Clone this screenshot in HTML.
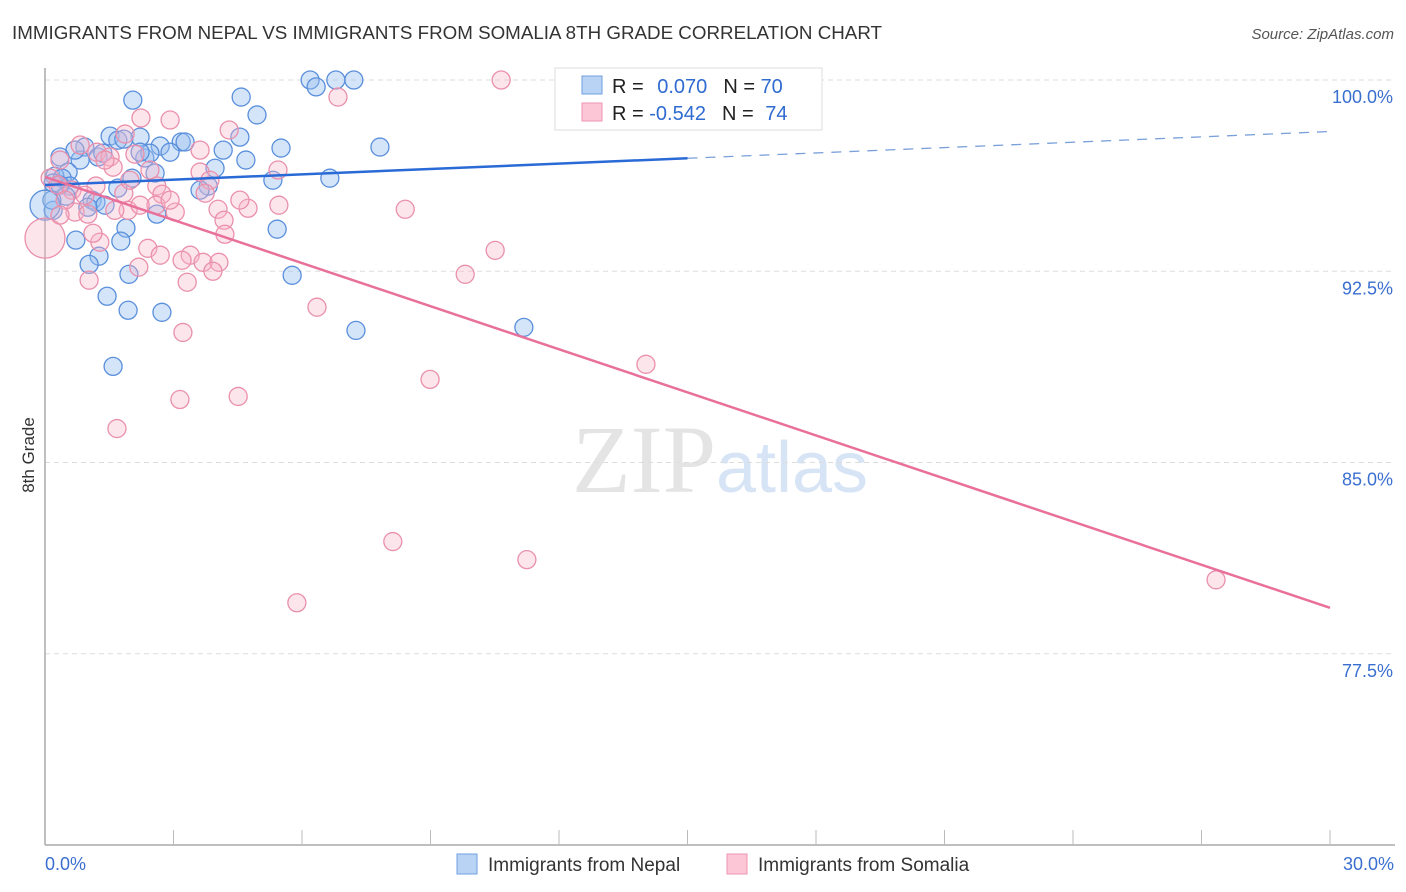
<!DOCTYPE html>
<html><head><meta charset="utf-8"><style>
body{margin:0;background:#fff;font-family:"Liberation Sans",sans-serif}
svg{display:block}
</style></head><body>
<svg id="chart" width="1406" height="892" xmlns="http://www.w3.org/2000/svg" font-family="Liberation Sans, sans-serif">
<text x="12" y="39" font-size="18" fill="#333" textLength="870" lengthAdjust="spacingAndGlyphs">IMMIGRANTS FROM NEPAL VS IMMIGRANTS FROM SOMALIA 8TH GRADE CORRELATION CHART</text>
<text x="1394" y="39" font-size="15" fill="#555" font-style="italic" text-anchor="end">Source: ZipAtlas.com</text>
<text x="720" y="492" font-size="96" text-anchor="middle" fill="#e4e4e4" font-family="Liberation Serif, serif">ZIP<tspan fill="#d6e4f5" font-family="Liberation Sans, sans-serif" font-size="72">atlas</tspan></text>
<text transform="translate(34,455) rotate(-90)" font-size="17" fill="#333" text-anchor="middle">8th Grade</text>
<g id="grid"></g><g id="axes"></g><g id="pts"></g><g id="lines"></g>
<g>
<rect x="555" y="68" width="267" height="62" fill="#fff" stroke="#ddd"/>
<rect x="582" y="76" width="20" height="18" fill="#b9d3f5" stroke="#6f9fe0"/>
<rect x="582" y="103" width="20" height="18" fill="#fcc6d6" stroke="#ec94b0"/>
<text x="612" y="93" font-size="20" fill="#222">R = <tspan fill="#2f6bd0" dx="8">0.070</tspan><tspan dx="16" fill="#222">N = </tspan><tspan fill="#2f6bd0">70</tspan></text>
<text x="612" y="120" font-size="20" fill="#222">R = <tspan fill="#2f6bd0">-0.542</tspan><tspan dx="16" fill="#222">N = </tspan><tspan fill="#2f6bd0" dx="6">74</tspan></text>
</g>
<g>
<rect x="457" y="854" width="20" height="20" fill="#b9d3f5" stroke="#6f9fe0"/>
<text x="488" y="871" font-size="19" fill="#333">Immigrants from Nepal</text>
<rect x="727" y="854" width="20" height="20" fill="#fcc6d6" stroke="#ec94b0"/>
<text x="758" y="871" font-size="19" fill="#333">Immigrants from Somalia</text>
</g>
</svg>
<script>
const yTicks=[100,92.5,85,77.5];
const yTickLabels=["100.0%","92.5%","85.0%","77.5%"];
const xTickLabels=["0.0%","30.0%"];
const nepalX=[6.19,6.33,6.79,7.21,2.05,4.58,4.95,1.52,2.22,1.70,1.84,0.93,2.69,3.18,3.27,7.82,5.51,4.16,0.35,1.24,0.82,1.35,2.33,2.45,2.92,4.69,3.97,2.57,0.54,0.23,0.40,0.19,0.58,2.03,5.32,6.65,3.81,1.70,1.10,1.19,0.49,1.40,1.00,0.19,2.61,1.89,5.42,1.77,0.72,1.26,1.03,1.96,5.77,1.45,1.94,2.73,7.26,11.18,1.59,0.35,0.70,2.22,4.55,0.16,3.62,0.0];
const nepalY=[100,99.73,100,100,99.21,99.33,98.63,97.80,97.76,97.64,97.68,97.37,97.41,97.57,97.57,97.37,97.33,97.25,96.98,96.98,96.86,97.13,96.94,97.13,97.17,96.86,96.54,96.35,96.39,96.23,96.15,95.96,95.84,96.15,96.07,96.15,95.84,95.76,95.29,95.21,95.44,95.09,95.01,94.89,94.74,94.19,94.15,93.68,93.72,93.09,92.77,92.38,92.34,91.52,90.97,90.89,90.18,90.30,88.77,95.88,97.25,97.17,97.76,95.29,95.68,95.09];
const somaliaX=[10.65,6.84,2.24,2.92,4.30,1.87,0.82,1.21,1.52,1.59,2.10,0.35,0.12,0.30,0.63,1.19,1.84,2.61,2.73,3.62,3.85,3.74,5.44,2.59,3.04,4.04,4.74,5.46,8.41,1.94,0.70,1.00,2.40,1.28,1.12,4.18,4.20,2.69,3.39,3.20,3.69,4.06,2.19,3.92,3.32,1.03,9.81,10.51,6.35,3.22,14.03,8.99,3.15,4.51,1.68,8.12,11.25,5.88,27.34,0.0,0.47,1.40,2.45,1.98,1.63,3.62,0.35,0.93,2.92,2.22,4.55];
const somaliaY=[100,99.33,98.51,98.43,98.04,97.88,97.45,97.17,96.98,96.58,97.09,96.86,96.15,95.88,95.68,95.84,95.56,95.84,95.52,96.39,96.07,95.56,96.47,95.09,94.82,94.93,94.97,95.09,94.93,94.89,94.82,94.74,93.40,93.64,93.99,94.50,93.95,93.13,93.13,92.93,92.85,92.85,92.66,92.50,92.07,92.15,92.38,93.32,91.09,90.10,88.85,88.26,87.47,87.59,86.33,81.90,81.19,79.50,80.40,93.80,95.29,96.86,96.47,96.07,94.89,97.25,94.70,95.48,95.29,95.09,95.29];
const nepalTrend=[95.88,97.98];
const somaliaTrend=[96.2,79.3];
const NS="http://www.w3.org/2000/svg";
const xs=v=>45+v/30*1285, ys=v=>80+(100-v)/30*765;
function mk(tag,parent,attrs){const e=document.createElementNS(NS,tag);for(const k in attrs)e.setAttribute(k,attrs[k]);document.getElementById(parent).appendChild(e);return e;}
yTicks.forEach((t,i)=>{
 const l=mk('line','grid',{x1:45,x2:1395,y1:ys(t),y2:ys(t),stroke:'#ddd','stroke-dasharray':'5,4'});
 
 
 const tx=mk('text','grid',{x:1393,y:ys(t)+23,'font-size':18,fill:'#3a6fd0','text-anchor':'end'});
 tx.textContent=yTickLabels[i];
 
 
});
mk('line','axes',{x1:45,x2:45,y1:68,y2:845,stroke:'#aaa','stroke-width':1.5});
mk('line','axes',{x1:45,x2:1395,y1:845,y2:845,stroke:'#aaa','stroke-width':1.5});
for(let i=1;i<=10;i++){const x=xs(i*3);mk('line','axes',{x1:x,x2:x,y1:830,y2:845,stroke:'#bbb'});}
let t1=mk('text','axes',{x:45,y:870,'font-size':18,fill:'#3a6fd0'});t1.textContent=xTickLabels[0];


let t2=mk('text','axes',{x:1394,y:870,'font-size':18,fill:'#3a6fd0','text-anchor':'end'});t2.textContent=xTickLabels[1];


nepalX.forEach((v,i)=>{
 const c=mk('circle','pts',{cx:xs(v),cy:ys(nepalY[i]),r:v===0?15:9,fill:'rgba(150,190,240,0.4)',stroke:'#5a8fdc','stroke-width':1.3});
 
 
});
somaliaX.forEach((v,i)=>{
 const c=mk('circle','pts',{cx:xs(v),cy:ys(somaliaY[i]),r:v===0?20:9,fill:'rgba(250,180,200,0.35)',stroke:'#ea90ac','stroke-width':1.3});
 
 
});
const nAt=x=>nepalTrend[0]+(nepalTrend[1]-nepalTrend[0])*x/30;
let a=mk('line','lines',{x1:xs(0),y1:ys(nAt(0)),x2:xs(15),y2:ys(nAt(15)),stroke:'#2a6ad6','stroke-width':2.5});


let b=mk('line','lines',{x1:xs(15),y1:ys(nAt(15)),x2:xs(30),y2:ys(nAt(30)),stroke:'#7aa0da','stroke-width':1.3,'stroke-dasharray':'10,8'});


let c=mk('line','lines',{x1:xs(0),y1:ys(somaliaTrend[0]),x2:xs(30),y2:ys(somaliaTrend[1]),stroke:'#e8709a','stroke-width':2.5});


</script>
</body></html>
